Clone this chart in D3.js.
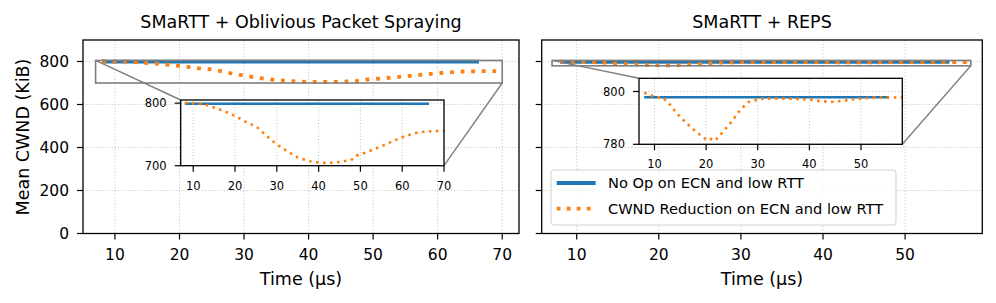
<!DOCTYPE html>
<html>
<head>
<meta charset="utf-8">
<script src="https://cdn.jsdelivr.net/npm/d3@7"></script>
<style>
  body { margin: 0; background: #fff; }
  svg text { font-family: "DejaVu Sans", sans-serif; fill: #000; }
</style>
</head>
<body>
<svg id="chart" width="996" height="303"></svg>
<script>
// left panel: SMaRTT + Oblivious Packet Spraying
const leftTime = [8, 10, 12.5, 15, 17.5, 20, 23, 25, 27.5, 30, 32.5, 35, 38, 40, 42, 44, 46, 48, 49, 50, 52, 55, 58, 61, 64, 67, 70];
const leftReduction = [800, 799.8, 798.4, 793, 787, 779.5, 768.5, 763, 748, 734, 723, 713, 707, 705, 704.5, 705, 707, 710, 716, 718, 723, 731, 740, 748, 753.5, 755, 755.7];
const leftNoOpTime = [8, 20, 40, 66.4];
const leftNoOp = [799, 799, 799, 799];

// right panel: SMaRTT + REPS
const rightTime = [8, 10, 11.7, 13, 14.3, 15.6, 17.3, 18.9, 20.2, 21, 21.4, 22, 22.7, 24.7, 26.6, 28.2, 30.5, 33.1, 36.9, 39.5, 42.1, 44.1, 46, 49.2, 52.5, 55, 58];
const rightReduction = [799.5, 798, 797.6, 795, 791.8, 789.2, 786, 783.5, 781.5, 782, 781.3, 782, 783.5, 788, 793, 796, 797.2, 797.4, 797.2, 797, 796.4, 796, 796.4, 797.2, 797.7, 797.7, 797.7];
const rightNoOpTime = [8, 20, 40, 55.4];
const rightNoOp = [797.8, 797.8, 797.8, 797.8];

const yTicks = [0, 200, 400, 600, 800];
const leftXTicks = [10, 20, 30, 40, 50, 60, 70];
const rightXTicks = [10, 20, 30, 40, 50];
const leftInsetYTicks = [700, 800];
const rightInsetYTicks = [780, 800];
const legendLabels = ["No Op on ECN and low RTT", "CWND Reduction on ECN and low RTT"];

const blue = "#1f77b4", orange = "#ff7f0e";
const svg = d3.select("#chart");

const y = d3.scaleLinear().domain([0, 900]).range([233.5, 40]);

const panels = [
  {
    title: "SMaRTT + Oblivious Packet Spraying",
    x: d3.scaleLinear().domain([5.05, 72.6]).range([83, 519]),
    xTicks: leftXTicks, yLabels: true,
    time: leftTime, red: leftReduction, noOpTime: leftNoOpTime, noOp: leftNoOp,
    inset: { xd: [7, 70], yd: [700, 805], xr: [180.7, 444], yr: [165.7, 100], xTicks: leftXTicks, yTicks: leftInsetYTicks }
  },
  {
    title: "SMaRTT + REPS",
    x: d3.scaleLinear().domain([5.74, 59.4]).range([541.7, 982.3]),
    xTicks: rightXTicks, yLabels: false,
    time: rightTime, red: rightReduction, noOpTime: rightNoOpTime, noOp: rightNoOp,
    inset: { xd: [7, 58], yd: [780, 805], xr: [639, 902.3], yr: [144.3, 78.3], xTicks: rightXTicks, yTicks: rightInsetYTicks }
  }
];

const drawLines = (g, x, yS, p, lw, dash) => {
  const line = d3.line().x(d => x(d[0])).y(d => yS(d[1]));
  g.append("path")
    .attr("d", line(d3.zip(p.noOpTime, p.noOp)))
    .attr("fill", "none").attr("stroke", blue).attr("stroke-width", lw);
  g.append("path")
    .attr("d", line(d3.zip(p.time, p.red)))
    .attr("fill", "none").attr("stroke", orange).attr("stroke-width", lw)
    .attr("stroke-dasharray", dash);
};

const drawGrid = (g, x, yS, xt, yt) => {
  const [x0, x1] = x.range(), [y0, y1] = yS.range();
  xt.forEach(t => g.append("line").attr("x1", x(t)).attr("x2", x(t)).attr("y1", y0).attr("y2", y1)
    .attr("stroke", "#b0b0b0").attr("stroke-width", 0.8).attr("stroke-dasharray", "1,2.2"));
  yt.forEach(t => g.append("line").attr("x1", x0).attr("x2", x1).attr("y1", yS(t)).attr("y2", yS(t))
    .attr("stroke", "#b0b0b0").attr("stroke-width", 0.8).attr("stroke-dasharray", "1,2.2"));
};

const drawAxes = (g, x, yS, xt, yt, fs, showY, xOff, yOff) => {
  const [x0, x1] = x.range(), [y0, y1] = yS.range();
  g.append("rect").attr("x", x0).attr("y", y1).attr("width", x1 - x0).attr("height", y0 - y1)
    .attr("fill", "none").attr("stroke", "#000").attr("stroke-width", 1.3);
  xt.forEach(t => {
    g.append("line").attr("x1", x(t)).attr("x2", x(t)).attr("y1", y0).attr("y2", y0 + 6)
      .attr("stroke", "#000").attr("stroke-width", 1.2);
    g.append("text").attr("x", x(t)).attr("y", y0 + xOff).attr("text-anchor", "middle")
      .attr("font-size", fs).text(t);
  });
  yt.forEach(t => {
    g.append("line").attr("x1", x0 - 6).attr("x2", x0).attr("y1", yS(t)).attr("y2", yS(t))
      .attr("stroke", "#000").attr("stroke-width", 1.2);
    if (showY) g.append("text").attr("x", x0 - yOff).attr("y", yS(t)).attr("dy", "0.36em")
      .attr("text-anchor", "end").attr("font-size", fs).text(t);
  });
};

panels.forEach(p => {
  const g = svg.append("g");
  const x = p.x;
  drawGrid(g, x, y, p.xTicks, yTicks);
  drawLines(g, x, y, p, 3.8, "3.8,6.8");

  // zoom indicator rectangle and connectors
  const ins = p.inset;
  const xi = d3.scaleLinear().domain(ins.xd).range(ins.xr);
  const yi = d3.scaleLinear().domain(ins.yd).range(ins.yr);
  const rx0 = x(ins.xd[0]), rx1 = x(ins.xd[1]), ry0 = y(ins.yd[1]), ry1 = y(ins.yd[0]);
  g.append("rect").attr("x", rx0).attr("y", ry0).attr("width", rx1 - rx0).attr("height", ry1 - ry0)
    .attr("fill", "none").attr("stroke", "#7f7f7f").attr("stroke-width", 1.6);
  g.append("line").attr("x1", rx0).attr("y1", ry0).attr("x2", ins.xr[0]).attr("y2", ins.yr[1])
    .attr("stroke", "#7f7f7f").attr("stroke-width", 1.4);
  g.append("line").attr("x1", rx1).attr("y1", ry1).attr("x2", ins.xr[1]).attr("y2", ins.yr[0])
    .attr("stroke", "#7f7f7f").attr("stroke-width", 1.4);

  drawAxes(g, x, y, p.xTicks, yTicks, "15.5px", p.yLabels, 26.5, 14);
  g.append("text").attr("x", (x.range()[0] + x.range()[1]) / 2).attr("y", 28)
    .attr("text-anchor", "middle").attr("font-size", "17.5px").text(p.title);
  g.append("text").attr("x", (x.range()[0] + x.range()[1]) / 2).attr("y", 285)
    .attr("text-anchor", "middle").attr("font-size", "17.5px").text("Time (µs)");

  // inset
  const gi = svg.append("g");
  gi.append("rect").attr("x", ins.xr[0]).attr("y", ins.yr[1])
    .attr("width", ins.xr[1] - ins.xr[0]).attr("height", ins.yr[0] - ins.yr[1]).attr("fill", "#fff");
  drawGrid(gi, xi, yi, ins.xTicks, ins.yTicks);
  const clipId = "clip" + ins.xr[0];
  gi.append("clipPath").attr("id", clipId).append("rect")
    .attr("x", ins.xr[0]).attr("y", ins.yr[1]).attr("width", ins.xr[1] - ins.xr[0]).attr("height", ins.yr[0] - ins.yr[1]);
  drawLines(gi.append("g").attr("clip-path", `url(#${clipId})`), xi, yi, p, 2.6, "2.6,4.4");
  drawAxes(gi, xi, yi, ins.xTicks, ins.yTicks, "11.5px", true, 24, 14);
});

svg.append("text")
  .attr("transform", "translate(28.5,137) rotate(-90)")
  .attr("text-anchor", "middle").attr("font-size", "17.5px").text("Mean CWND (KiB)");

// legend
const lg = svg.append("g");
lg.append("rect").attr("x", 551).attr("y", 170).attr("width", 345).attr("height", 55)
  .attr("rx", 3).attr("fill", "#fff").attr("fill-opacity", 0.8)
  .attr("stroke", "#d0d0d0").attr("stroke-width", 1);
legendLabels.forEach((label, i) => {
  const ly = 183 + i * 25.7;
  lg.append("line").attr("x1", 556.7).attr("x2", 595.7).attr("y1", ly).attr("y2", ly)
    .attr("stroke", i ? orange : blue).attr("stroke-width", 3.8)
    .attr("stroke-dasharray", i ? "3.8,6.2" : null);
  lg.append("text").attr("x", 608).attr("y", ly).attr("dy", "0.36em")
    .attr("font-size", "14.6px").text(label);
});
</script>
</body>
</html>
